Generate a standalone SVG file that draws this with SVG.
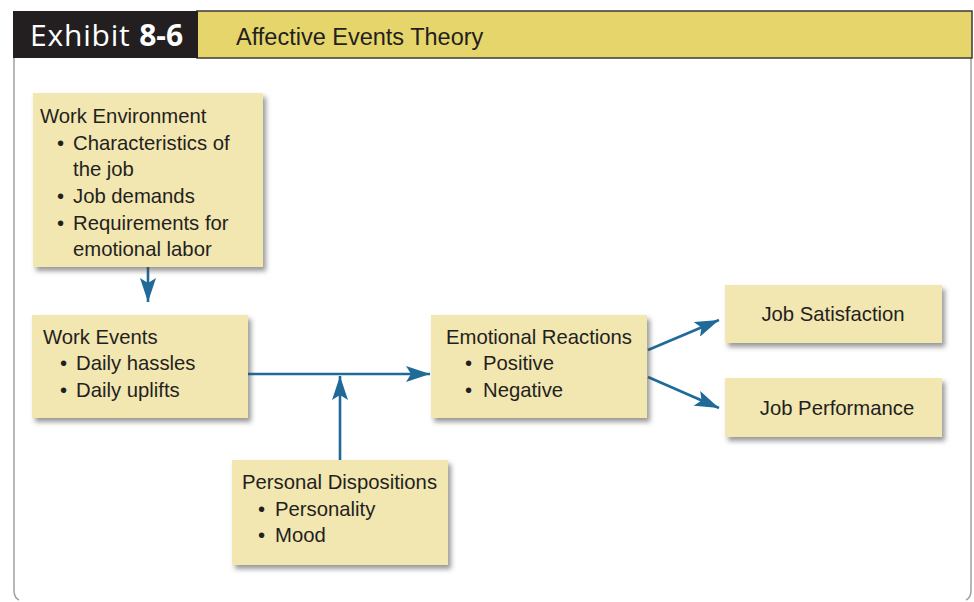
<svg xmlns="http://www.w3.org/2000/svg" width="974" height="602" viewBox="0 0 974 602">
<defs>
<filter id="sh" x="-10%" y="-10%" width="130%" height="140%">
<feDropShadow dx="3" dy="4" stdDeviation="2.5" flood-color="#444" flood-opacity="0.55"/>
</filter>
<marker id="ah" viewBox="0 0 24 16" refX="24" refY="8" markerWidth="24" markerHeight="16" markerUnits="userSpaceOnUse" orient="auto">
<path d="M0,0 L24,8 L0,16 L5,8 Z" fill="#1f6a99"/>
</marker>
<style>
.box{fill:#f2e6b1;filter:url(#sh);}
.t{font-family:"Liberation Sans",Arial,sans-serif;font-size:20.3px;fill:#231f20;}
.c{stroke:#1f6a99;stroke-width:2.6;fill:none;}
</style>
</defs>
<rect width="974" height="602" fill="#fff"/>
<g id="frame">
<path d="M14,58 V590 Q14,598 19,600" fill="none" stroke="#a0a0a0" stroke-width="1.5"/>
<path d="M971,58 V590 Q971,598 966,600" fill="none" stroke="#a0a0a0" stroke-width="1.5"/>
</g>
<g id="header">
<rect x="197" y="11" width="775" height="47" fill="#e6d56a" stroke="#3a3a3a" stroke-width="1.5"/>
<rect x="13" y="11" width="185" height="47" fill="#231f20"/>
<text x="30" y="46" font-family="'Open Sans','Liberation Sans',sans-serif" font-size="30" letter-spacing="0.8" fill="#fff">Exhibit <tspan font-weight="bold" letter-spacing="0">8-6</tspan></text>
<text x="236" y="45" font-family="'Liberation Sans',Arial,sans-serif" font-size="23.5" fill="#231f20">Affective Events Theory</text>
</g>
<g id="connectors">
<line class="c" x1="148" y1="267" x2="148" y2="302" marker-end="url(#ah)"/>
<line class="c" x1="248" y1="374" x2="430" y2="374" marker-end="url(#ah)"/>
<line class="c" x1="340" y1="460" x2="340" y2="376" marker-end="url(#ah)"/>
<line class="c" x1="648" y1="350" x2="719" y2="320" marker-end="url(#ah)"/>
<line class="c" x1="648" y1="377" x2="719" y2="408" marker-end="url(#ah)"/>
</g>
<g id="work-environment">
<rect class="box" x="33" y="93" width="230" height="174"/>
<text class="t" x="40" y="123">Work Environment</text>
<text class="t" x="57" y="150">•</text><text class="t" x="73" y="150">Characteristics of</text>
<text class="t" x="73" y="176">the job</text>
<text class="t" x="57" y="203">•</text><text class="t" x="73" y="203">Job demands</text>
<text class="t" x="57" y="230">•</text><text class="t" x="73" y="230">Requirements for</text>
<text class="t" x="73" y="256">emotional labor</text>
</g>
<g id="work-events">
<rect class="box" x="32" y="315" width="216" height="103"/>
<text class="t" x="43" y="344">Work Events</text>
<text class="t" x="60" y="370">•</text><text class="t" x="76" y="370">Daily hassles</text>
<text class="t" x="60" y="397">•</text><text class="t" x="76" y="397">Daily uplifts</text>
</g>
<g id="emotional-reactions">
<rect class="box" x="431" y="315" width="216" height="103"/>
<text class="t" x="446" y="344">Emotional Reactions</text>
<text class="t" x="465" y="370">•</text><text class="t" x="483" y="370">Positive</text>
<text class="t" x="465" y="397">•</text><text class="t" x="483" y="397">Negative</text>
</g>
<g id="job-satisfaction">
<rect class="box" x="725" y="285" width="217" height="58"/>
<text class="t" x="833" y="321" text-anchor="middle">Job Satisfaction</text>
</g>
<g id="job-performance">
<rect class="box" x="725" y="378" width="217" height="59"/>
<text class="t" x="837" y="415" text-anchor="middle">Job Performance</text>
</g>
<g id="personal-dispositions">
<rect class="box" x="232" y="460" width="216" height="105"/>
<text class="t" x="242" y="489">Personal Dispositions</text>
<text class="t" x="258" y="516">•</text><text class="t" x="275" y="516">Personality</text>
<text class="t" x="258" y="542">•</text><text class="t" x="275" y="542">Mood</text>
</g>
</svg>
